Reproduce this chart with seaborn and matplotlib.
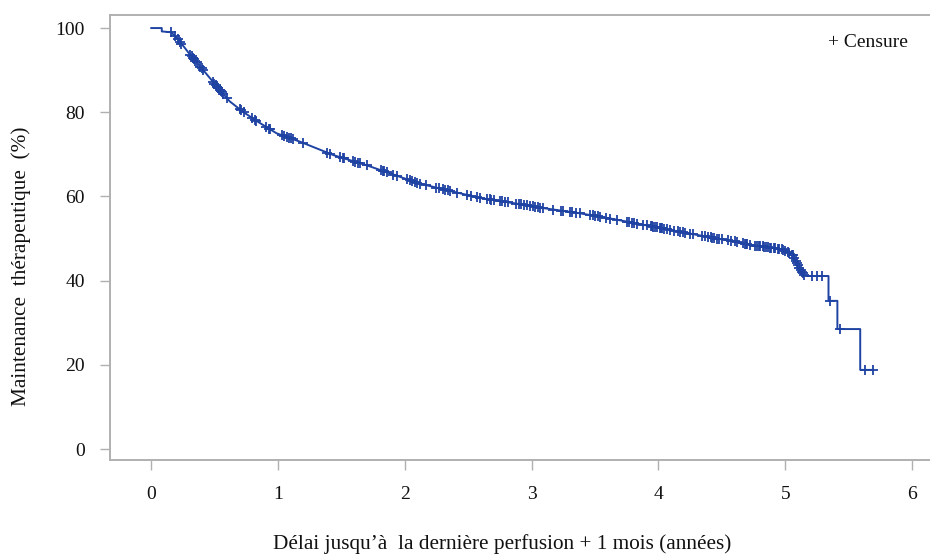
import numpy as np
import pandas as pd
import matplotlib
matplotlib.use("Agg")
import matplotlib.pyplot as plt
import seaborn as sns

# ----------------------------------------------------------
# Kaplan-Meier curve (time in years, % maintained)
# ----------------------------------------------------------
km_time = [0.0, 0.085, 0.085, 0.16, 0.23, 0.31, 0.39, 0.52, 0.62, 0.73, 0.85, 0.99,
           1.175, 1.44, 1.70, 1.94, 2.10, 2.33, 2.60, 2.86, 3.10, 3.38, 3.65, 3.91,
           4.10, 4.28, 4.46, 4.60, 4.72, 4.85, 4.99, 5.03, 5.06, 5.09, 5.13, 5.16,
           5.34, 5.34, 5.41, 5.41, 5.59, 5.59, 5.69]
km_surv = [100.0, 100.0, 99.2, 99.0, 96.7, 93.6, 90.8, 86.1, 82.6, 80.0, 77.6, 75.0,
           73.0, 69.8, 67.4, 64.9, 63.2, 61.5, 59.6, 58.4, 57.2, 56.0, 54.6, 53.1,
           52.0, 51.0, 50.0, 49.3, 48.5, 48.0, 47.3, 46.6, 46.0, 44.1, 42.1, 41.1,
           41.1, 35.2, 35.2, 28.5, 28.5, 18.8, 18.8]

# censored observations (years)
censor_time = [0.16, 0.19, 0.21, 0.23, 0.24, 0.31, 0.32, 0.33, 0.34, 0.35, 0.36, 0.39,
               0.40, 0.41, 0.49, 0.50, 0.51, 0.52, 0.53, 0.54, 0.55, 0.56, 0.57, 0.60,
               0.70, 0.71, 0.73, 0.80, 0.82, 0.83, 0.91, 0.93, 0.94, 1.03, 1.05, 1.07,
               1.09, 1.10, 1.12, 1.20, 1.39, 1.41, 1.49, 1.51, 1.52, 1.59, 1.61, 1.63,
               1.65, 1.70, 1.81, 1.83, 1.84, 1.86, 1.91, 1.94, 2.02, 2.04, 2.06, 2.08,
               2.10, 2.12, 2.17, 2.25, 2.27, 2.30, 2.32, 2.34, 2.36, 2.41, 2.49, 2.52,
               2.57, 2.59, 2.65, 2.67, 2.68, 2.70, 2.75, 2.77, 2.79, 2.81, 2.88, 2.90,
               2.92, 2.94, 2.96, 2.99, 3.01, 3.03, 3.05, 3.07, 3.09, 3.17, 3.23, 3.25,
               3.30, 3.32, 3.35, 3.38, 3.46, 3.48, 3.50, 3.52, 3.54, 3.59, 3.62, 3.67,
               3.75, 3.77, 3.79, 3.81, 3.83, 3.88, 3.91, 3.94, 3.95, 3.96, 3.97, 3.99,
               4.01, 4.02, 4.03, 4.04, 4.07, 4.09, 4.12, 4.15, 4.17, 4.19, 4.21, 4.25,
               4.27, 4.34, 4.37, 4.39, 4.41, 4.42, 4.44, 4.46, 4.48, 4.50, 4.55, 4.57,
               4.60, 4.62, 4.67, 4.68, 4.69, 4.70, 4.72, 4.76, 4.78, 4.79, 4.80, 4.82,
               4.83, 4.85, 4.86, 4.88, 4.89, 4.91, 4.92, 4.94, 4.95, 4.97, 4.98, 5.00,
               5.02, 5.03, 5.05, 5.06, 5.07, 5.08, 5.09, 5.10, 5.11, 5.12, 5.13, 5.14,
               5.15, 5.21, 5.25, 5.29, 5.35, 5.43, 5.63, 5.69]

x_ticks = [0, 1, 2, 3, 4, 5, 6]
y_ticks = [0, 20, 40, 60, 80, 100]

x_label = "Délai jusqu\u2019à  la dernière perfusion + 1 mois (années)"
y_label = "Maintenance  thérapeutique  (%)"
legend_text = "+ Censure"

# ----------------------------------------------------------
# Build tables
# ----------------------------------------------------------
km_df = pd.DataFrame({"time": km_time, "surv": km_surv})
cens_df = pd.DataFrame({"time": censor_time})
cens_df["surv"] = np.interp(cens_df["time"], km_df["time"], km_df["surv"])

# ----------------------------------------------------------
# Plot
# ----------------------------------------------------------
sns.set_theme(style="white")
plt.rcParams["font.family"] = ["Liberation Serif", "DejaVu Serif"]

curve_color = "#1f43a3"
frame_color = "#b0b0b0"

fig = plt.figure(figsize=(9.3, 5.56), dpi=100)
ax = fig.add_axes([0.1183, 0.1727, 0.8817, 0.8003])

sns.lineplot(data=km_df, x="time", y="surv", sort=False, estimator=None,
             color=curve_color, linewidth=1.4, ax=ax)
sns.scatterplot(data=cens_df, x="time", y="surv", marker="+", s=50,
                linewidth=1.3, color=curve_color, ax=ax, zorder=3)

ax.set_xlim(-0.323, 6.14)
ax.set_ylim(-2.6, 103.1)
ax.set_xticks(x_ticks)
ax.set_yticks(y_ticks)
ax.set_xticklabels([str(t) for t in x_ticks], fontsize=14)
ax.set_yticklabels([str(t) for t in y_ticks], fontsize=14)

ax.tick_params(axis="both", which="major", direction="out", length=7,
               width=1.0, color=frame_color, labelcolor="#111111",
               bottom=True, left=True)
ax.tick_params(axis="x", pad=12)
ax.tick_params(axis="y", pad=11)

for side in ["left", "bottom", "top"]:
    ax.spines[side].set_color(frame_color)
    ax.spines[side].set_linewidth(1.4)
ax.spines["right"].set_visible(False)

ax.set_xlabel(x_label, fontsize=15.3, color="#111111")
ax.set_ylabel(y_label, fontsize=15.3, color="#111111")
ax.xaxis.set_label_coords(0.478, -0.166)
ax.yaxis.set_label_coords(-0.0963, 0.436)

ax.text(0.973, 0.939, legend_text, transform=ax.transAxes, ha="right",
        va="center", fontsize=14, color="#111111")

fig.savefig("out.png", dpi=100)
